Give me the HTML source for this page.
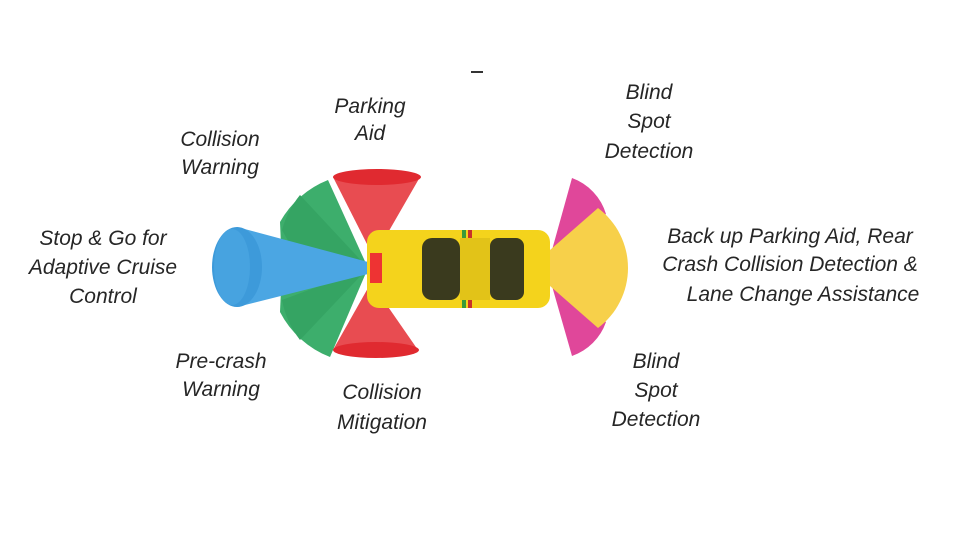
<!DOCTYPE html>
<html><head><style>
html,body{margin:0;padding:0;background:#fff;}
svg{display:block}
text{font-family:"Liberation Sans",sans-serif;font-style:italic;font-size:21px;fill:#262626;text-anchor:middle}
</style></head><body>
<svg width="960" height="540" viewBox="0 0 960 540" xmlns="http://www.w3.org/2000/svg">
<rect width="960" height="540" fill="#fff"/>
<line x1="471" y1="72" x2="483" y2="72" stroke="#333" stroke-width="2"/>
<!-- green sectors -->
<path d="M368,268 L328,180 A95,95 0 0 0 280,222 L282,268 Z" fill="#3dae6c"/>
<path d="M368,268 L300,195 A95,95 0 0 0 282,230 L300,262 Z" fill="#35a463"/>
<path d="M368,268 L282,268 L280,312 A95,95 0 0 0 330,357 Z" fill="#3dae6c"/>
<path d="M368,268 L282,300 A95,95 0 0 0 300,340 Z" fill="#35a463"/>
<!-- red cones -->
<path d="M333,177 L420,177 L378,250 L370,250 Z" fill="#e84c51"/>
<ellipse cx="377" cy="177" rx="44" ry="8" fill="#e02a30"/>
<path d="M333,350 L418,350 L375,288 L368,288 Z" fill="#e84c51"/>
<ellipse cx="376" cy="350" rx="43" ry="8" fill="#e02a30"/>
<!-- blue cone -->
<path d="M237,227 L368,262 L368,274 L237,307 Z" fill="#4ba6e3"/>
<ellipse cx="237" cy="267" rx="25" ry="40" fill="#3d9ada"/>
<ellipse cx="232" cy="267" rx="18" ry="38" fill="#47a3e0"/>
<!-- pink/yellow -->
<path d="M552,250 L572,178 A55,55 0 0 1 606,214 Z" fill="#e0479a"/>
<path d="M552,286 L572,356 A55,55 0 0 0 606,322 Z" fill="#e0479a"/>
<path d="M550,250 L598,208 A75,75 0 0 1 598,328 L550,286 Z" fill="#f7d04a"/>
<!-- car -->
<rect x="367" y="230" width="183" height="78" rx="12" fill="#f4d31c"/>
<rect x="370" y="253" width="12" height="30" fill="#e33"/>
<rect x="422" y="238" width="38" height="62" rx="10" fill="#3a3a1e"/>
<rect x="490" y="238" width="34" height="62" rx="8" fill="#3a3a1e"/>
<rect x="462" y="230" width="4" height="78" fill="#3a9a3a"/>
<rect x="468" y="230" width="4" height="78" fill="#c8332a"/>
<rect x="460" y="238" width="30" height="62" fill="#e2c318"/>
<!-- labels -->
<text x="370" y="113">Parking</text><text x="370" y="140">Aid</text>
<text x="220" y="146">Collision</text><text x="220" y="174">Warning</text>
<text x="103" y="245">Stop &amp; Go for</text><text x="103" y="274">Adaptive Cruise</text><text x="103" y="303">Control</text>
<text x="221" y="368">Pre-crash</text><text x="221" y="396">Warning</text>
<text x="382" y="399">Collision</text><text x="382" y="429">Mitigation</text>
<text x="649" y="99">Blind</text><text x="649" y="128">Spot</text><text x="649" y="158">Detection</text>
<text x="790" y="243">Back up Parking Aid,  Rear</text><text x="790" y="271">Crash Collision Detection &amp;</text><text x="803" y="301">Lane Change Assistance</text>
<text x="656" y="368">Blind</text><text x="656" y="397">Spot</text><text x="656" y="426">Detection</text>
</svg>
</body></html>
